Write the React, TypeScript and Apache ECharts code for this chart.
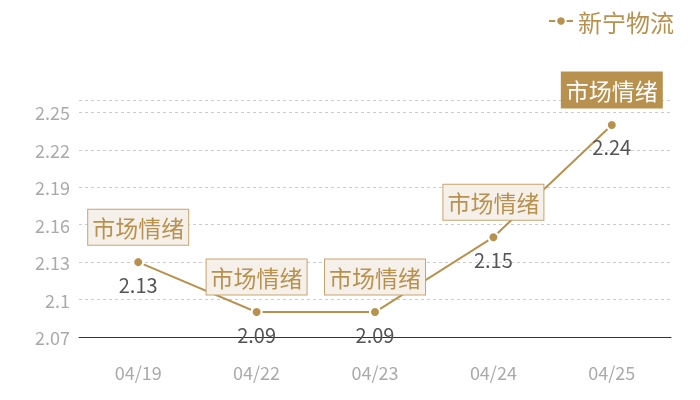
import React, { useEffect, useRef } from "react";
import * as echarts from "echarts";

const categories = ["04/19", "04/22", "04/23", "04/24", "04/25"];
const values = [2.13, 2.09, 2.09, 2.15, 2.24];
const markTexts = ["市场情绪", "市场情绪", "市场情绪", "市场情绪", "市场情绪"];
const highlighted = [false, false, false, false, true];
const seriesName = "新宁物流";

const GOLD = "#b8914f";
const FONT = "'Noto Sans CJK SC', 'Noto Sans', sans-serif";

export default function App() {
  const ref = useRef<HTMLDivElement>(null);
  useEffect(() => {
    if (!ref.current) return;
    const chart = echarts.init(ref.current, undefined, { renderer: "svg" });
    const markData = categories.map((c, i) => ({
      coord: [c, values[i]],
      symbol: "rect",
      symbolSize: 1,
      itemStyle: { color: "rgba(0,0,0,0)" },
      label: {
        show: true,
        position: "inside",
        offset: [0, -35],
        formatter: markTexts[i],
        fontFamily: FONT,
        fontSize: 23,
        lineHeight: 23,
        color: highlighted[i] ? "#ffffff" : GOLD,
        backgroundColor: highlighted[i] ? GOLD : "#f5f0ea",
        borderColor: highlighted[i] ? GOLD : "#c9a46e",
        borderWidth: 1,
        padding: [6, 4],
      },
    }));
    chart.setOption({
      animation: false,
      textStyle: { fontFamily: FONT },
      legend: {
        data: [seriesName],
        right: 21,
        top: 4,
        itemWidth: 24,
        itemHeight: 12,
        itemGap: 8,
        textStyle: { color: GOLD, fontSize: 24, fontFamily: FONT },
      },
      grid: { left: 79, right: 29, top: 100, bottom: 63 },
      xAxis: {
        type: "category",
        data: categories,
        boundaryGap: true,
        axisLine: { lineStyle: { color: "#333333", width: 1 } },
        axisTick: { show: false },
        axisLabel: { color: "#aaaaaa", fontSize: 18, margin: 26, fontFamily: FONT },
      },
      yAxis: {
        type: "value",
        min: 2.07,
        max: 2.26,
        interval: 0.03,
        axisLine: { show: false },
        axisTick: { show: false },
        axisLabel: {
          color: "#aaaaaa",
          fontSize: 18,
          margin: 9,
          showMaxLabel: false,
          fontFamily: FONT,
          formatter: (v: number) => String(parseFloat(v.toFixed(2))),
        },
        splitLine: { lineStyle: { color: "#cccccc", type: [3, 3] } },
      },
      series: [
        {
          name: seriesName,
          type: "line",
          data: values,
          symbol: "circle",
          symbolSize: 10,
          color: GOLD,
          itemStyle: { color: GOLD, borderColor: "#ffffff", borderWidth: 2 },
          lineStyle: { color: GOLD, width: 2 },
          label: {
            show: true,
            position: "bottom",
            distance: 6,
            color: "#555555",
            fontSize: 20,
            fontFamily: FONT,
          },
          markPoint: { data: markData },
        },
      ],
    });
    return () => chart.dispose();
  }, []);
  return (
    <div
      ref={ref}
      style={{ position: "fixed", left: 0, top: 0, width: 700, height: 400 }}
    />
  );
}
